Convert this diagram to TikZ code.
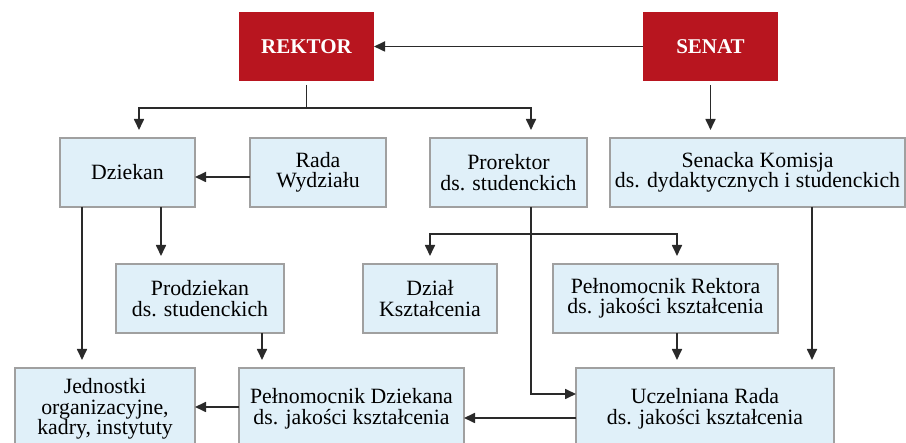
\documentclass[tikz,border=0pt]{standalone}
\usepackage{fontspec}
\setmainfont{Liberation Serif}
\usetikzlibrary{positioning, arrows.meta, calc}
\definecolor{unired}{HTML}{B8151F}
\definecolor{boxblue}{HTML}{E0F0F9}
\definecolor{boxgray}{HTML}{A0A0A0}
\definecolor{linegray}{HTML}{2A2A2A}

\begin{document}
\begin{tikzpicture}[x=1pt, y=1pt, line width=1.7pt
  ]
% Block and link styles
\tikzstyle{head} = [fill=unired, text=white, outer sep=0pt, align=center, minimum width=135pt, minimum height=69pt, font=\bfseries\fontsize{21}{21}\selectfont]
\tikzstyle{unit} = [draw=boxgray, line width=1.6pt, fill=boxblue, text=black, outer sep=0pt, align=center, minimum height=69pt, inner sep=2pt, font=\fontsize{21.8}{20.5}\selectfont]
\tikzstyle{link} = [draw=linegray, -{Triangle[width=10pt,length=11pt]}]
\tikzstyle{vlink} = [link, shorten >=8pt]

\useasboundingbox (0,0) rectangle (906,443);

% Blocks
\node[head] (rk) at (306.5,396.5) {REKTOR};
\node[head] (sn) at (710.5,396.5) {SENAT};

\node[unit, minimum width=135pt] (dz) at (127.5,270.5) {Dziekan};
\node[unit, minimum width=136pt, right=55pt of dz] (rw) {Rada\\Wydziału};
\node[unit, minimum width=157pt, right=44pt of rw] (pr) {Prorektor\\ds. studenckich};
\node[unit, minimum width=295pt, right=23pt of pr] (sk) {Senacka Komisja\\ds. dydaktycznych i studenckich};

\node[unit, minimum width=168pt] (pd) at (200,144.5) {Prodziekan\\ds. studenckich};
\node[unit, minimum width=134pt] (dk) at (430,144.5) {Dział\\Kształcenia};
\node[unit, minimum width=225pt] (pro) at (665.5,144.5) {Pełnomocnik Rektora\\ds. jakości kształcenia};

\node[unit, minimum width=180pt, minimum height=82pt] (jo) at (105,34) {Jednostki\\organizacyjne,\\kadry, instytuty};
\node[unit, minimum width=225pt, minimum height=82pt] (pdz) at (351.5,34) {Pełnomocnik Dziekana\\ds. jakości kształcenia};
\node[unit, minimum width=258pt, minimum height=82pt] (urj) at (705,34) {Uczelniana Rada\\ds. jakości kształcenia};

% Junctions
\coordinate (rkj) at ([yshift=-27pt]rk.south);
\coordinate (prj) at ([xshift=22.5pt,yshift=-27pt]pr.south);

% Top links
\draw[link] (sn) -- (rk);
\draw[draw=linegray, shorten <=4pt] (rk.south) -- (rkj);
\draw[vlink] (rkj) -| ([xshift=11.5pt]dz.north);
\draw[vlink] (rkj) -| ([xshift=22.5pt]pr.north);
\draw[vlink, shorten <=4pt] (sn.south) -- (sn.south |- sk.north);

% Middle links
\draw[link] ([yshift=-4.5pt]rw.west) -- ([yshift=-4.5pt]rw.west -| dz.east);
\draw[vlink] ([xshift=-45.5pt]dz.south) -- ([xshift=-45.5pt]dz.south |- jo.north);
\draw[vlink] ([xshift=33.5pt]dz.south) -- ([xshift=33.5pt]dz.south |- pd.north);
\draw[link] ([xshift=22.5pt]pr.south) |- ([yshift=15pt]urj.west);
\draw[vlink] (prj) -| (dk.north);
\draw[vlink] (prj) -| ([xshift=11.5pt]pro.north);

% Bottom links
\draw[vlink] ([xshift=62pt]pd.south) -- ([xshift=62pt]pd.south |- pdz.north);
\draw[vlink] ([xshift=11.5pt]pro.south) -- ([xshift=11.5pt]pro.south |- urj.north);
\draw[vlink] ([xshift=54.5pt]sk.south) -- ([xshift=54.5pt]sk.south |- urj.north);
\draw[link] ([yshift=-9pt]urj.west) -- ([yshift=-9pt]urj.west -| pdz.east);
\draw[link] ([yshift=2pt]pdz.west) -- ([yshift=2pt]pdz.west -| jo.east);
%---------------------
\end{tikzpicture}
\end{document}
